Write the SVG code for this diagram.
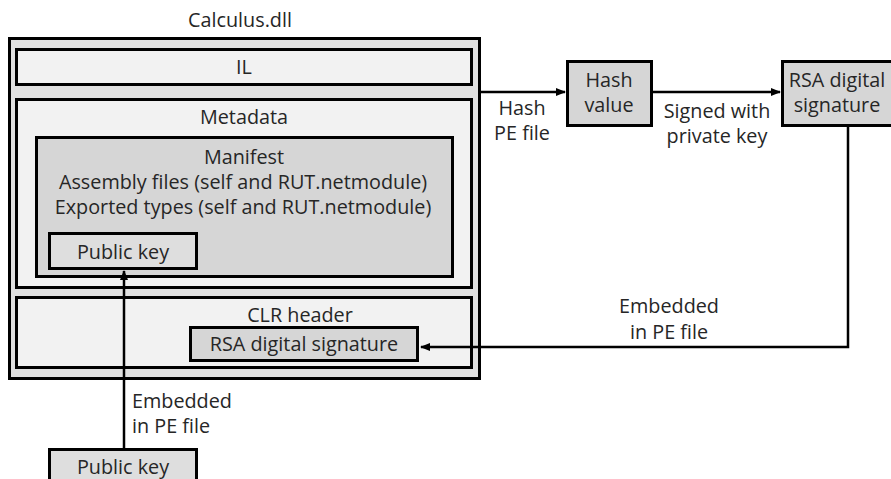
<svg xmlns="http://www.w3.org/2000/svg" width="891" height="479" viewBox="0 0 891 479">
<defs>
<style>
text{font-family:"Open Sans","Noto Sans","DejaVu Sans",sans-serif;font-size:19.8px;fill:#262626}
.c{text-anchor:middle}
.box{stroke:#000;stroke-width:3}
.outer{fill:#e0e0e0}
.light{fill:#f2f2f2}
.mid{fill:#d6d6d6}
.key{fill:#dedede}
.conn{fill:none;stroke:#000;stroke-width:2.5}
</style>
<marker id="ah" markerWidth="10" markerHeight="8" refX="9" refY="4" orient="auto" markerUnits="userSpaceOnUse">
<path d="M0,0 L10,4 L0,8 Z" fill="#000"/>
</marker>
</defs>
<rect width="891" height="479" fill="#fff"/>
<g id="calculus">
<text class="c" x="240" y="27">Calculus.dll</text>
<rect class="box outer" x="9.5" y="38.5" width="470" height="340"/>
</g>
<g id="il">
<rect class="box light" x="16.5" y="49.5" width="455" height="35"/>
<text class="c" x="244" y="74">IL</text>
</g>
<g id="metadata">
<rect class="box light" x="16.5" y="99.5" width="455" height="188"/>
<text class="c" x="244" y="124">Metadata</text>
</g>
<g id="manifest">
<rect class="box mid" x="36.5" y="137.5" width="416" height="139"/>
<text class="c" x="244" y="164">Manifest</text>
<text class="c" x="243" y="189">Assembly files (self and RUT.netmodule)</text>
<text class="c" x="243" y="214">Exported types (self and RUT.netmodule)</text>
</g>
<g id="publickey-inner">
<rect class="box key" x="49.5" y="233.5" width="147" height="35"/>
<text class="c" x="123" y="259">Public key</text>
</g>
<g id="clrheader">
<rect class="box light" x="16.5" y="297.5" width="455" height="70"/>
<text class="c" x="300" y="322">CLR header</text>
</g>
<g id="rsa-inner">
<rect class="box mid" x="190.5" y="327.5" width="227" height="33"/>
<text class="c" x="304" y="351">RSA digital signature</text>
</g>
<g id="hashvalue">
<rect class="box mid" x="567.5" y="61.5" width="84" height="64"/>
<text class="c" x="609" y="87">Hash</text>
<text class="c" x="609" y="112">value</text>
</g>
<g id="rsa-sig">
<rect class="box mid" x="782.5" y="61.5" width="115" height="64"/>
<text class="c" x="837" y="87">RSA digital</text>
<text class="c" x="837" y="112">signature</text>
</g>
<g id="publickey-outer">
<rect class="box key" x="49.5" y="449.5" width="147" height="40"/>
<text class="c" x="123" y="474">Public key</text>
</g>
<g id="connectors">
<path class="conn" d="M481,92 H565" marker-end="url(#ah)"/>
<path class="conn" d="M653,92 H780" marker-end="url(#ah)"/>
<path class="conn" d="M848,127 V347 H421" marker-end="url(#ah)"/>
<path class="conn" d="M124,448 V271" marker-end="url(#ah)"/>
<text class="c" x="522" y="115">Hash</text>
<text class="c" x="522" y="140">PE file</text>
<text class="c" x="717" y="118">Signed with</text>
<text class="c" x="717" y="143">private key</text>
<text class="c" x="669" y="313">Embedded</text>
<text class="c" x="669" y="339">in PE file</text>
<text x="132" y="408">Embedded</text>
<text x="132" y="433">in PE file</text>
</g>
</svg>
